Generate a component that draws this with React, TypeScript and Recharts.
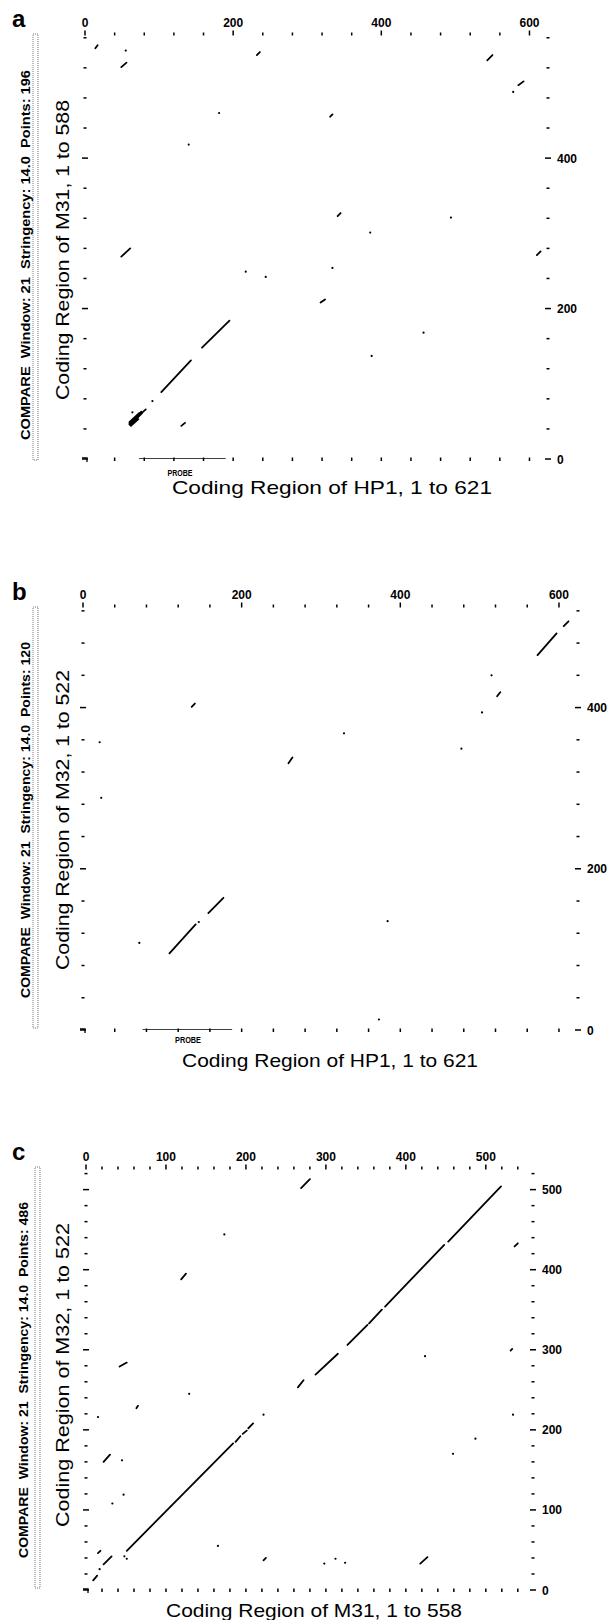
import React from "react";
import { ComposedChart, Line, Scatter, XAxis, YAxis } from "recharts";

type Seg = [number, number, number, number];
type Pt = [number, number];

const FONT = "'Liberation Sans', Arial, Helvetica, sans-serif";

// ---- panel a: HP1 (x) vs M31 (y) ----
const segmentsA: Seg[] = [
  [14, 546, 17, 550],
  [49, 521, 56, 527],
  [232, 537, 236, 541],
  [49, 269, 61, 280],
  [543, 530, 550, 537],
  [585, 497, 592, 502],
  [331, 455, 334, 458],
  [341, 323, 345, 327],
  [60, 46, 82, 66],
  [60, 49, 73, 61],
  [60, 47.5, 76, 63],
  [61, 45, 77, 61],
  [62, 44, 72, 53],
  [103, 89, 143, 131],
  [158, 148, 195, 184],
  [130, 44, 135, 48],
  [318, 208, 324, 212],
  [610, 271, 615, 276],
];
const dotsA: Pt[] = [
  [55, 543], [181, 460], [140, 418], [578, 488], [494, 321], [385, 301], [217, 249],
  [244, 242], [91, 77], [334, 254], [457, 168], [387, 137], [64, 62],
];
const probeA = [73, 190];

// ---- panel b: HP1 (x) vs M32 (y) ----
const segmentsB: Seg[] = [
  [137, 401, 141, 405],
  [259, 331, 264, 338],
  [573, 465, 597, 492],
  [606, 501, 612, 507],
  [522, 414, 526, 419],
  [109, 95, 142, 131],
  [158, 145, 177, 164],
];
const dotsB: Pt[] = [
  [21, 357], [23, 288], [515, 440], [503, 394], [329, 368], [477, 349], [146, 134],
  [71, 108], [384, 135], [373, 13],
];
const probeB = [75, 188];

// ---- panel c: M31 (x) vs M32 (y) ----
const segmentsC: Seg[] = [
  [51, 49, 184, 183],
  [187, 185, 193, 192],
  [196, 195, 201, 199],
  [203, 202, 209, 208],
  [265, 253, 272, 262],
  [287, 269, 315, 295],
  [327, 306, 352, 331],
  [354, 333, 370, 350],
  [374, 354, 448, 431],
  [453, 435, 519, 504],
  [9, 12, 14, 18],
  [22, 32, 32, 42],
  [15, 46, 18, 49],
  [269, 502, 280, 513],
  [119, 388, 125, 395],
  [536, 429, 540, 433],
  [531, 299, 533, 301],
  [418, 33, 427, 41],
  [42, 279, 51, 284],
  [63, 227, 65, 230],
  [22, 160, 30, 169],
  [222, 37, 225, 40],
];
const dotsC: Pt[] = [
  [173, 444], [424, 292], [534, 219], [487, 189], [459, 170], [298, 33], [312, 39],
  [324, 34], [129, 245], [15, 216], [222, 219], [45, 162], [47, 119], [33, 108],
  [165, 55], [17, 26], [48, 42], [51, 39],
];

// ---- ticks ----
const xTicks40 = [0, 40, 80, 120, 160, 200, 240, 280, 320, 360, 400, 440, 480, 520, 560, 600];
const yTicksA = [0, 40, 80, 120, 160, 200, 240, 280, 320, 360, 400, 440, 480, 520, 560];
const yTicksB = [0, 40, 80, 120, 160, 200, 240, 280, 320, 360, 400, 440, 480, 520];
const xTicksC = [
  0, 20, 40, 60, 80, 100, 120, 140, 160, 180, 200, 220, 240, 260, 280, 300, 320, 340, 360,
  380, 400, 420, 440, 460, 480, 500, 520, 540,
];
const yTicksC = [
  0, 20, 40, 60, 80, 100, 120, 140, 160, 180, 200, 220, 240, 260, 280, 300, 320, 340, 360,
  380, 400, 420, 440, 460, 480, 500, 520,
];
const labels200 = [0, 200, 400, 600];
const labels100 = [0, 100, 200, 300, 400, 500];

// axes take this much room; margins below are reduced by it
const AX = 10;

const toLine = (segs: Seg[]) =>
  segs.flatMap(([x1, y1, x2, y2]) => [
    { x: x1, y: y1 },
    { x: x2, y: y2 },
    { x: x2, y: null },
  ]);
const toDots = (pts: Pt[]) => pts.map(([x, y]) => ({ x, y }));

const mkTick = (side: "top" | "bottom" | "left" | "right", labels: number[]) => (p: any) => {
  const { x, y, payload } = p;
  const v = payload.value;
  const major = labels.includes(v);
  const s = { stroke: "#000", strokeWidth: 1.5 };
  if (side === "top")
    return (
      <g>
        <line x1={x} x2={x} y1={y - (major ? 3.5 : 1.5)} y2={y + 1.5} {...s} />
        {major && (
          <text x={x} y={y - 7} textAnchor="middle" fontSize={12} fontWeight="bold" fontFamily={FONT}>
            {v}
          </text>
        )}
      </g>
    );
  if (side === "bottom")
    return v === 0 ? (
      // the corner bracket
      <path d={`M${x - 3},${y - 1} H${x + 2} V${y + 3}`} fill="none" stroke="#000" strokeWidth={1.3} />
    ) : (
      <line x1={x} x2={x} y1={y - 1.5} y2={y + 2} {...s} />
    );
  if (side === "left")
    return <line x1={x - (major ? 3 : 1.5)} x2={x + (major ? 3 : 1.5)} y1={y} y2={y} {...s} />;
  return (
    <g>
      <line x1={x - (major ? 3 : 1.5)} x2={x + (major ? 3 : 1.5)} y1={y} y2={y} {...s} />
      {major && (
        <text x={x + 9} y={y + 4.5} fontSize={12} fontWeight="bold" fontFamily={FONT}>
          {v}
        </text>
      )}
    </g>
  );
};

interface DotPlotProps {
  top: number;
  height: number;
  plot: { top: number; right: number; bottom: number; left: number };
  xMax: number;
  yMax: number;
  xTicks: number[];
  yTicks: number[];
  xLabels: number[];
  yLabels: number[];
  segments: Seg[];
  dots: Pt[];
  probe?: number[];
}

function DotPlot(props: DotPlotProps) {
  const { top, height, plot, xMax, yMax, xTicks, yTicks, xLabels, yLabels, segments, dots, probe } = props;
  const margin = {
    top: plot.top - AX,
    right: plot.right - AX,
    bottom: plot.bottom - AX,
    left: plot.left - AX,
  };
  const common = { type: "number" as const, allowDataOverflow: true, interval: 0 as const, tickSize: 0, tickMargin: 0, axisLine: false, tickLine: false };
  return (
    <div style={{ position: "absolute", left: 0, top, width: 609, height }}>
      <ComposedChart width={609} height={height} margin={margin}>
        <XAxis {...common} xAxisId="bottom" orientation="bottom" dataKey="x" domain={[0, xMax]}
          ticks={xTicks} height={AX} tick={mkTick("bottom", xLabels)} />
        <XAxis {...common} xAxisId="top" orientation="top" dataKey="x" domain={[0, xMax]}
          ticks={xTicks} height={AX} tick={mkTick("top", xLabels)} />
        <YAxis {...common} yAxisId="left" orientation="left" dataKey="y" domain={[0, yMax]}
          ticks={yTicks} width={AX} tick={mkTick("left", yLabels)} />
        <YAxis {...common} yAxisId="right" orientation="right" dataKey="y" domain={[0, yMax]}
          ticks={yTicks} width={AX} tick={mkTick("right", yLabels)} />
        <Line xAxisId="bottom" yAxisId="left" data={toLine(segments)} dataKey="y" stroke="#000"
          strokeWidth={1.8} strokeLinecap="round" dot={false} activeDot={false}
          connectNulls={false} isAnimationActive={false} />
        {probe && (
          <Line xAxisId="bottom" yAxisId="left" data={[{ x: probe[0], y: 0 }, { x: probe[1], y: 0 }]}
            dataKey="y" stroke="#000" strokeWidth={1.6} dot={false} activeDot={false}
            isAnimationActive={false} />
        )}
        <Scatter xAxisId="top" yAxisId="right" data={toDots(dots)} isAnimationActive={false}
          shape={(p: any) => <circle cx={p.cx} cy={p.cy} r={1.1} fill="#000" />} />
      </ComposedChart>
    </div>
  );
}

function Side({ cx, cy, len, info, title }: { cx: number; cy: number; len: number; info: string; title: { cy: number; len: number; text: string } }) {
  return (
    <g>
      <text transform={`translate(${cx},${cy}) rotate(-90)`} textAnchor="middle" dominantBaseline="central"
        fontSize={13} fontWeight="bold" fontFamily={FONT} textLength={len} lengthAdjust="spacingAndGlyphs"
        style={{ whiteSpace: "pre" }}>
        {info}
      </text>
      <text transform={`translate(62,${title.cy}) rotate(-90)`} textAnchor="middle" dominantBaseline="central"
        fontSize={19} fontFamily={FONT} textLength={title.len} lengthAdjust="spacingAndGlyphs">
        {title.text}
      </text>
    </g>
  );
}

export default function App() {
  return (
    <div style={{ position: "absolute", left: 0, top: 0, width: 609, height: 1620, background: "#fff" }}>
      <DotPlot top={0} height={500} plot={{ top: 34, right: 61, bottom: 41, left: 85 }}
        xMax={625} yMax={565} xTicks={xTicks40} yTicks={yTicksA} xLabels={labels200} yLabels={labels200}
        segments={segmentsA} dots={dotsA} probe={probeA} />
      <DotPlot top={520} height={540} plot={{ top: 86, right: 31, bottom: 30, left: 83 }}
        xMax={624} yMax={526} xTicks={xTicks40} yTicks={yTicksB} xLabels={labels200} yLabels={labels200}
        segments={segmentsB} dots={dotsB} probe={probeB} />
      <DotPlot top={1120} height={500} plot={{ top: 48, right: 76, bottom: 30, left: 86 }}
        xMax={559} yMax={527} xTicks={xTicksC} yTicks={yTicksC} xLabels={labels100} yLabels={labels100}
        segments={segmentsC} dots={dotsC} />
      <svg width={609} height={1620} style={{ position: "absolute", left: 0, top: 0, pointerEvents: "none" }}>
        <g fontFamily={FONT}>
          <text x={12} y={27} fontSize={24} fontWeight="bold">a</text>
          <text x={12} y={600} fontSize={24} fontWeight="bold">b</text>
          <text x={12} y={1160} fontSize={24} fontWeight="bold">c</text>

          <rect x={33} y={34} width={5} height={426} fill="none" stroke="#555" strokeWidth={0.8} strokeDasharray="1 1" />
          <rect x={33} y={607} width={5} height={421} fill="none" stroke="#555" strokeWidth={0.8} strokeDasharray="1 1" />
          <rect x={35} y={1167} width={5} height={421} fill="none" stroke="#555" strokeWidth={0.8} strokeDasharray="1 1" />

          <Side cx={25} cy={255} len={370} info={"COMPARE  Window: 21  Stringency: 14.0  Points: 196"}
            title={{ cy: 250, len: 300, text: "Coding Region of M31, 1 to 588" }} />
          <Side cx={25} cy={820} len={356} info={"COMPARE  Window: 21  Stringency: 14.0  Points: 120"}
            title={{ cy: 820, len: 300, text: "Coding Region of M32, 1 to 522" }} />
          <Side cx={23} cy={1380} len={356} info={"COMPARE  Window: 21  Stringency: 14.0  Points: 486"}
            title={{ cy: 1375, len: 304, text: "Coding Region of M32, 1 to 522" }} />

          <text x={332} y={494} textAnchor="middle" fontSize={19} textLength={320} lengthAdjust="spacingAndGlyphs">
            Coding Region of HP1, 1 to 621
          </text>
          <text x={330} y={1067} textAnchor="middle" fontSize={19} textLength={296} lengthAdjust="spacingAndGlyphs">
            Coding Region of HP1, 1 to 621
          </text>
          <text x={314} y={1617} textAnchor="middle" fontSize={19} textLength={296} lengthAdjust="spacingAndGlyphs">
            Coding Region of M31, 1 to 558
          </text>

          <text x={180} y={476} textAnchor="middle" fontSize={9} fontWeight="bold" textLength={25} lengthAdjust="spacingAndGlyphs">PROBE</text>
          <text x={188} y={1043} textAnchor="middle" fontSize={9} fontWeight="bold" textLength={26} lengthAdjust="spacingAndGlyphs">PROBE</text>
        </g>
      </svg>
    </div>
  );
}
